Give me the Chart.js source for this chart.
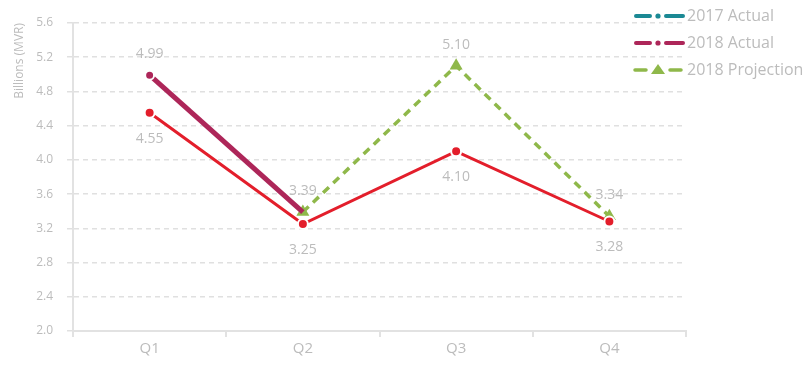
<!DOCTYPE html>
<html>
<head>
<meta charset="utf-8">
<script src="https://cdn.jsdelivr.net/npm/chart.js@4"></script>
<style>
  html, body { margin: 0; padding: 0; background: #ffffff; }
  #wrap { width: 811px; height: 365px; position: relative; }
</style>
</head>
<body>
<div id="wrap"><canvas id="quarterChart" width="811" height="365"></canvas></div>
<script>
// quarterly figures, billions MVR
const quarters = ['Q1', 'Q2', 'Q3', 'Q4'];
const actual2017 = [4.55, 3.25, 4.10, 3.28];
const actual2018 = [4.99, 3.39, null, null];
const projection2018 = [null, 3.39, 5.10, 3.34];
const yTicks = [2.0, 2.4, 2.8, 3.2, 3.6, 4.0, 4.4, 4.8, 5.2, 5.6];
const legendNames = ['2017 Actual', '2018 Actual', '2018 Projection'];

const RED = '#e31e2b';
const MAROON = '#ad2659';
const GREEN = '#8fb84a';
const TEAL = '#1b8994';
const TEXT_GREY = '#bcbcbc';
const FONT = '"Open Sans", "Noto Sans", sans-serif';

// value labels: which dataset, which side of the point
const labelSides = [
    { ds: 0, side: 'below', skip: [] },
    { ds: 1, side: 'above', skip: [] },
    { ds: 2, side: 'above', skip: [1] } // Q2 already labelled by 2018 Actual
];

const valueLabels = {
    id: 'valueLabels',
    afterDatasetsDraw(chart) {
        const ctx = chart.ctx;
        ctx.save();
        ctx.font = '14px ' + FONT;
        ctx.fillStyle = TEXT_GREY;
        ctx.textAlign = 'center';
        ctx.textBaseline = 'middle';
        labelSides.forEach(cfg => {
            const meta = chart.getDatasetMeta(cfg.ds);
            const data = chart.data.datasets[cfg.ds].data;
            meta.data.forEach((pt, i) => {
                if (data[i] === null || cfg.skip.includes(i)) return;
                const dy = cfg.side === 'above' ? -21 : 26;
                ctx.fillText(data[i].toFixed(2), pt.x, pt.y + dy);
            });
        });
        ctx.restore();
    }
};

// legend drawn as dash-dot-dash samples at top right
const sideLegend = {
    id: 'sideLegend',
    afterDraw(chart) {
        const ctx = chart.ctx;
        const colors = [TEAL, MAROON, GREEN];
        const rows = [16, 43, 70];
        ctx.save();
        ctx.lineCap = 'round';
        legendNames.forEach((name, i) => {
            const y = rows[i];
            ctx.strokeStyle = colors[i];
            ctx.fillStyle = colors[i];
            if (i < 2) {
                ctx.lineWidth = 4;
                ctx.beginPath();
                ctx.moveTo(636, y); ctx.lineTo(650, y);
                ctx.moveTo(666, y); ctx.lineTo(683, y);
                ctx.stroke();
                ctx.beginPath();
                ctx.arc(658, y, 2.6, 0, Math.PI * 2);
                ctx.fill();
            } else {
                ctx.lineWidth = 3.5;
                ctx.beginPath();
                ctx.moveTo(635, y); ctx.lineTo(646, y);
                ctx.moveTo(670, y); ctx.lineTo(681, y);
                ctx.stroke();
                ctx.beginPath();
                ctx.moveTo(658, y - 6);
                ctx.lineTo(665, y + 4);
                ctx.lineTo(651, y + 4);
                ctx.closePath();
                ctx.fill();
            }
            ctx.font = '16px ' + FONT;
            ctx.fillStyle = TEXT_GREY;
            ctx.textAlign = 'left';
            ctx.textBaseline = 'middle';
            ctx.fillText(name, 687, y);
        });
        ctx.restore();
    }
};

new Chart(document.getElementById('quarterChart'), {
    type: 'line',
    data: {
        labels: quarters,
        datasets: [
            {
                label: legendNames[0],
                data: actual2017,
                borderColor: RED,
                backgroundColor: RED,
                borderWidth: 3,
                pointRadius: 5,
                pointBorderColor: '#ffffff',
                pointBorderWidth: 2,
                pointBackgroundColor: RED,
                tension: 0
            },
            {
                label: legendNames[1],
                data: actual2018,
                borderColor: MAROON,
                backgroundColor: MAROON,
                borderWidth: 5,
                pointRadius: [4.5, 0, 0, 0],
                pointBorderColor: '#ffffff',
                pointBorderWidth: 2,
                pointBackgroundColor: MAROON,
                spanGaps: false,
                tension: 0
            },
            {
                label: legendNames[2],
                data: projection2018,
                borderColor: GREEN,
                backgroundColor: GREEN,
                borderWidth: 3.5,
                borderDash: [8, 6],
                pointStyle: 'triangle',
                pointRadius: 7.5,
                pointBorderWidth: 0,
                pointBackgroundColor: GREEN,
                tension: 0
            }
        ]
    },
    options: {
        responsive: false,
        animation: false,
        layout: { padding: { top: 23, right: 125, left: 0, bottom: 0 } },
        plugins: {
            legend: { display: false },
            tooltip: { enabled: false }
        },
        scales: {
            x: {
                offset: true,
                grid: {
                    offset: true,
                    drawOnChartArea: false,
                    color: '#e2e2e2',
                    lineWidth: 2,
                    tickLength: 6
                },
                border: { color: '#e2e2e2', width: 2 },
                ticks: {
                    color: TEXT_GREY,
                    font: { family: FONT, size: 15 },
                    padding: 3
                },
                afterFit(scale) { scale.height = 34; }
            },
            y: {
                min: 2.0,
                max: 5.6,
                afterBuildTicks(scale) {
                    scale.ticks = yTicks.map(v => ({ value: v }));
                },
                grid: {
                    color: '#e0e0e0',
                    lineWidth: 1.5,
                    tickLength: 6,
                    tickBorderDash: [5, 4]
                },
                // in v4 border.dash sets the dash of the grid lines
                border: { color: '#e2e2e2', width: 2, dash: [5, 4] },
                ticks: {
                    color: TEXT_GREY,
                    font: { family: FONT, size: 12 },
                    padding: 14,
                    callback: v => v.toFixed(1)
                },
                title: {
                    display: true,
                    text: 'Billions (MVR)',
                    align: 'end',
                    color: TEXT_GREY,
                    font: { family: FONT, size: 12 },
                    padding: { top: 12, bottom: 0 }
                },
                afterFit(scale) { scale.width = 73; }
            }
        }
    },
    plugins: [valueLabels, sideLegend]
});
</script>
</body>
</html>
